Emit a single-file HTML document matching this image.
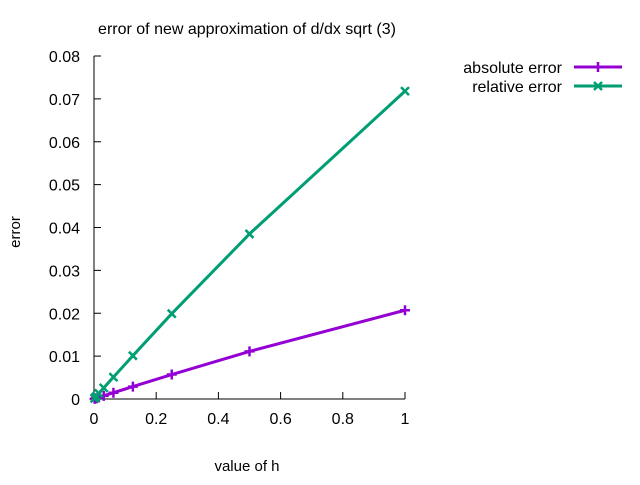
<!DOCTYPE html>
<html><head><meta charset="utf-8"><style>
body{margin:0;background:#fff}
svg text{font-family:"Liberation Sans",sans-serif;font-size:16px;fill:#000}
</style></head><body>
<svg id="c" width="640" height="480" xmlns="http://www.w3.org/2000/svg">
<rect width="640" height="480" fill="#fff"/>
<text x="247" y="34" text-anchor="middle" style="font-size:16px">error of new approximation of d/dx sqrt (3)</text>
<text x="247" y="471" text-anchor="middle" style="font-size:15px">value of h</text>
<text transform="translate(20,232) rotate(-90)" text-anchor="middle" style="font-size:15px">error</text>
<g id="axes"></g><g id="series"></g>
<g>
<text x="562" y="73" text-anchor="end">absolute error</text>
<line x1="574" y1="67" x2="622" y2="67" stroke="#9400d3" stroke-width="3"/>
<path d="M593,67h10M598,62v10" stroke="#9400d3" stroke-width="2.5"/>
<text x="562" y="92" text-anchor="end">relative error</text>
<line x1="574" y1="86" x2="622" y2="86" stroke="#009e73" stroke-width="3"/>
<path d="M594,82l8,8M602,82l-8,8" stroke="#009e73" stroke-width="2.5"/>
</g>
</svg>
<script>
const hValues=[1,0.5,0.25,0.125,0.0625,0.03125,0.015625,0.0078125,0.00390625,0.001953125];
const absoluteError=[0.0207,0.0111,0.0057,0.0029,0.00146,0.00074,0.00037,0.000186,0.000093,0.000047];
const relativeError=[0.0718,0.0385,0.0199,0.0101,0.0051,0.0026,0.0013,0.00064,0.00032,0.00016];
const xTicks=[0,0.2,0.4,0.6,0.8,1];
const xTickLabels=["0","0.2","0.4","0.6","0.8","1"];
const yTicks=[0,0.01,0.02,0.03,0.04,0.05,0.06,0.07,0.08];
const yTickLabels=["0","0.01","0.02","0.03","0.04","0.05","0.06","0.07","0.08"];
const X0=94,X1=405,Y0=399,Y1=56;
const sx=v=>X0+(X1-X0)*v, sy=v=>Y0-(Y0-Y1)*v/0.08;
const NS="http://www.w3.org/2000/svg";
function mk(t,a,p){const e=document.createElementNS(NS,t);for(const k in a)e.setAttribute(k,a[k]);p.appendChild(e);return e;}
const ax=document.getElementById('axes');
let b=mk('path',{d:`M${X0},${Y1}V${Y0}H${X1}`,stroke:'#000',fill:'none','stroke-width':1},ax);


xTicks.forEach((v,i)=>{const x=sx(v);
 let t=mk('line',{x1:x,x2:x,y1:Y0,y2:Y0-7,stroke:'#000'},ax);
 
 
 let l=mk('text',{x:x,y:Y0+25,'text-anchor':'middle'},ax);l.textContent=xTickLabels[i];
 
 });
yTicks.forEach((v,i)=>{const y=sy(v);
 let t=mk('line',{x1:X0,x2:X0+7,y1:y,y2:y,stroke:'#000'},ax);
 
 
 let l=mk('text',{x:X0-14,y:y+6,'text-anchor':'end'},ax);l.textContent=yTickLabels[i];
 
 });
const sg=document.getElementById('series');
function series(vals,color,name,marker){
 const g=mk('g',{},sg);
 
 
 const pts=hValues.map((h,i)=>[sx(h),sy(vals[i])]);
 let p=mk('polyline',{points:pts.map(q=>q.join(',')).join(' '),fill:'none',stroke:color,'stroke-width':3},g);
 
 
 pts.forEach(([x,y])=>{
  const d=marker==='plus'?`M${x-5},${y}h10M${x},${y-5}v10`:`M${x-4},${y-4}l8,8M${x+4},${y-4}l-8,8`;
  let m=mk('path',{d:d,stroke:color,'stroke-width':2.5},g);
  
  });
}
series(absoluteError,'#9400d3','absolute-error-series','plus');
series(relativeError,'#009e73','relative-error-series','cross');
</script>
</body></html>
